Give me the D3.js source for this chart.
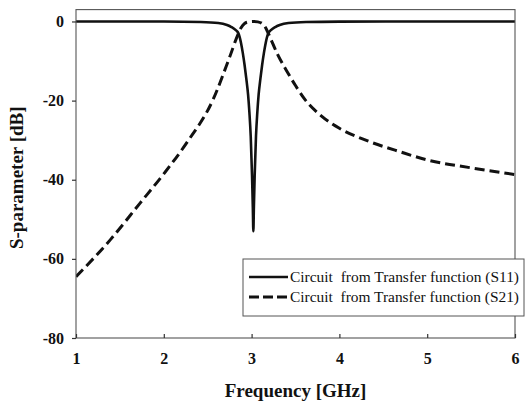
<!DOCTYPE html>
<html>
<head>
<meta charset="utf-8">
<script src="https://cdn.jsdelivr.net/npm/d3@7"></script>
<style>
  body { margin: 0; background: #fff; }
  svg { display: block; }
  text { font-family: "Liberation Serif", "Times New Roman", serif; fill: #111; }
</style>
</head>
<body>
<svg width="530" height="407"></svg>
<script>
"use strict";

//data
var freqTicks = [1, 2, 3, 4, 5, 6];
var dbTicks = [-80, -60, -40, -20, 0];

var s11Freq = [1.0, 2.0, 2.42, 2.62, 2.72, 2.77, 2.82, 2.85, 2.88, 2.90, 2.92, 2.94, 2.96, 2.975, 2.99, 3.005, 3.014, 3.02,
               3.026, 3.035, 3.05, 3.065, 3.08, 3.10, 3.12, 3.14, 3.16, 3.19, 3.22, 3.27, 3.32, 3.42, 3.62, 4.0, 5.0, 6.0];
var s11Db = [0, -0.02, -0.15, -0.4, -0.9, -1.4, -2.2, -3, -5.5, -8, -11, -14.5, -18.5, -23, -29, -39, -47, -53,
             -47, -39, -29, -23, -18.5, -14.5, -11, -8, -5.5, -3, -2.2, -1.4, -0.9, -0.4, -0.15, -0.05, -0.01, 0];

var s21Freq = [1.0, 1.39, 1.73, 2.0, 2.26, 2.56, 2.75, 2.85, 2.88, 2.92, 2.97, 3.02, 3.07, 3.12, 3.16, 3.19,
               3.3, 3.4, 3.5, 3.6, 3.8, 4.0, 4.3, 4.7, 5.0, 5.5, 6.0];
var s21Db = [-64.5, -55.2, -45.9, -38.5, -30.7, -19.8, -9, -3, -1.6, -0.5, -0.1, 0, -0.1, -0.5, -1.6, -3,
             -8.5, -12.5, -16.2, -19.5, -24, -27, -30, -33, -35, -37, -38.7];

var legendLabels = ["Circuit  from Transfer function (S11)", "Circuit  from Transfer function (S21)"];

var svg = d3.select("svg");

//scales
var x = d3.scaleLinear().domain([1, 6]).range([76, 515]);
var y = d3.scaleLinear().domain([-80, 3]).range([338, 9.6]);

svg.append("clipPath").attr("id", "plotclip")
  .append("rect")
  .attr("x", x(1)).attr("y", y(3))
  .attr("width", x(6) - x(1)).attr("height", y(-80) - y(3));

var line = d3.line()
  .x(function(d) { return x(d[0]); })
  .y(function(d) { return y(d[1]); })
  .curve(d3.curveMonotoneX);

var s11 = d3.zip(s11Freq, s11Db);
var s21 = d3.zip(s21Freq, s21Db);

var plot = svg.append("g").attr("clip-path", "url(#plotclip)");

plot.append("path").datum(s21)
  .attr("d", line)
  .attr("fill", "none")
  .attr("stroke", "#111")
  .attr("stroke-width", 3)
  .attr("stroke-dasharray", "10,5");

plot.append("path").datum(s11)
  .attr("d", line)
  .attr("fill", "none")
  .attr("stroke", "#111")
  .attr("stroke-width", 2.6)
  .attr("stroke-linejoin", "round");

//frame
svg.append("rect")
  .attr("x", x(1)).attr("y", y(3))
  .attr("width", x(6) - x(1)).attr("height", y(-80) - y(3))
  .attr("fill", "none")
  .attr("stroke", "#555")
  .attr("stroke-width", 1.1);

//axes
var fmt = function(d) { return String(d); };

var xAxis = svg.append("g")
  .attr("transform", "translate(0," + y(-80) + ")")
  .call(d3.axisBottom(x).tickValues(freqTicks).tickSizeInner(-4).tickSizeOuter(0).tickPadding(15).tickFormat(fmt));

var yAxis = svg.append("g")
  .attr("transform", "translate(" + x(1) + ",0)")
  .call(d3.axisLeft(y).tickValues(dbTicks).tickSizeInner(4).tickSizeOuter(0).tickPadding(8).tickFormat(fmt));

[xAxis, yAxis].forEach(function(a) {
  a.attr("font-family", null);
  a.select(".domain").remove();
  a.selectAll(".tick line").attr("stroke", "#333").attr("stroke-width", 1.2);
  a.selectAll(".tick text")
    .attr("fill", "#111")
    .style("font-family", '"Liberation Serif", "Times New Roman", serif')
    .style("font-size", "16px")
    .style("font-weight", "bold");
});

//axis titles
svg.append("text")
  .attr("x", x(3.5)).attr("y", 397)
  .attr("text-anchor", "middle")
  .style("font-size", "19px").style("font-weight", "bold")
  .text("Frequency [GHz]");

svg.append("text")
  .attr("transform", "translate(23," + y(-39.5) + ") rotate(-90)")
  .attr("text-anchor", "middle")
  .style("font-size", "19px").style("font-weight", "bold")
  .text("S-parameter [dB]");

//legend
var legend = svg.append("g").attr("transform", "translate(243,259)");

legend.append("rect")
  .attr("width", 281).attr("height", 57)
  .attr("fill", "#fff")
  .attr("stroke", "#555")
  .attr("stroke-width", 1);

var items = legend.selectAll("g.item").data(legendLabels)
  .join("g")
  .attr("class", "item")
  .attr("transform", function(d, i) { return "translate(0," + (18 + i * 20) + ")"; });

items.append("line")
  .attr("x1", 6).attr("x2", 45)
  .attr("stroke", "#111")
  .attr("stroke-width", function(d, i) { return i ? 3 : 2.6; })
  .attr("stroke-dasharray", function(d, i) { return i ? "10,4" : null; });

items.append("text")
  .attr("x", 47).attr("dy", "0.35em")
  .attr("textLength", 229)
  .attr("lengthAdjust", "spacingAndGlyphs")
  .style("font-family", '"Liberation Serif", "Times New Roman", serif')
  .style("font-size", "14px")
  .style("white-space", "pre")
  .text(function(d) { return d; });
</script>
</body>
</html>
